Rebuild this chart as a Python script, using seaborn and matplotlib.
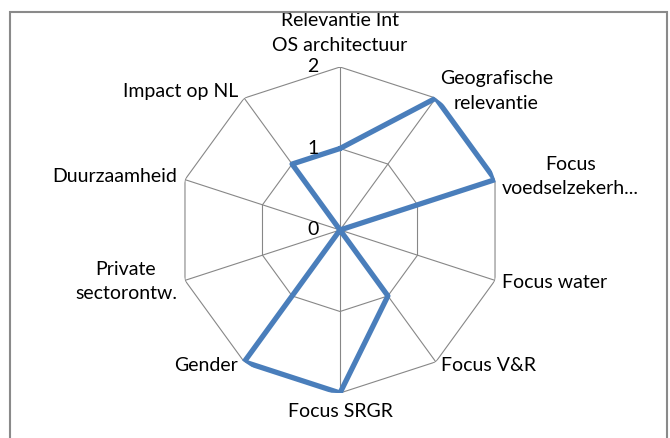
import numpy as np
import pandas as pd
import matplotlib
matplotlib.use("Agg")
import matplotlib.pyplot as plt
import seaborn as sns
from matplotlib.patches import Rectangle

categories = ["Relevantie Int\nOS architectuur", "Geografische\nrelevantie",
              "Focus\nvoedselzekerh...", "Focus water", "Focus V&R", "Focus SRGR",
              "Gender", "Private\nsectorontw.", "Duurzaamheid", "Impact op NL"]
values = [1, 2, 2, 0, 1, 2, 2, 0, 0, 1]
ticks = [0, 1, 2]

sns.set_style("white")
plt.rcParams["font.family"] = ["Lato", "DejaVu Sans"]

W, H = 670, 438
fig = plt.figure(figsize=(W / 100, H / 100), dpi=100)
cx, cy, R = 340, 230, 163
ax = fig.add_axes([(cx - R) / W, (H - cy - R) / H, 2 * R / W, 2 * R / H], projection="polar")
ax.patch.set_alpha(0)

n = len(categories)
angles = np.arange(n) * 2 * np.pi / n
ax.set_theta_offset(np.pi / 2)
ax.set_theta_direction(-1)
ax.grid(False)
ax.spines["polar"].set_visible(False)

closed = np.append(angles, angles[0])
gcol = "#878787"
for t in ticks[1:]:
    ax.plot(closed, [t] * (n + 1), color=gcol, lw=0.8, zorder=1)
for a in angles:
    ax.plot([a, a], [0, ticks[-1]], color=gcol, lw=0.8, zorder=1)

df = pd.DataFrame({"theta": closed, "r": values + values[:1]})
sns.lineplot(data=df, x="theta", y="r", sort=False, estimator=None, ax=ax,
             color="#4A7EBB", lw=3.8, zorder=3)
ax.set_ylim(0, ticks[-1])
ax.set_xticks([])
ax.set_yticks([])
ax.set_xlabel("")
ax.set_ylabel("")

fs = 14
for t in ticks:
    ax.annotate(str(t), xy=(0, t), xytext=(-27, 0), textcoords="offset pixels",
                ha="center", va="center", fontsize=fs, color="black", annotation_clip=False)

frame = Rectangle((10 / W, -0.1), 657 / W, (H - 12) / H + 0.1, transform=fig.transFigure,
                  fill=False, edgecolor="#8a8a8a", lw=1.5)
fig.patches.append(frame)

offsets = [(0, 13, "center", "bottom"), (4, 7, "left", "center"), (7, 3, "left", "center"),
           (7, -2, "left", "center"), (5, -4, "left", "center"), (0, -10, "center", "top"),
           (-6, -4, "right", "center"), (-8, -1, "right", "center"), (-8, 3, "right", "center"),
           (-6, 7, "right", "center")]
for a, lab, (dx, dy, ha, va) in zip(angles, categories, offsets):
    txt = ax.annotate(lab, xy=(a, ticks[-1]), xytext=(dx, dy), textcoords="offset pixels",
                      ha=ha, va=va, multialignment="center", fontsize=fs, linespacing=1.55,
                      color="black", annotation_clip=False)
    txt.set_clip_on(True)
    txt.set_clip_path(frame)

fig.savefig("out.png", dpi=100)
